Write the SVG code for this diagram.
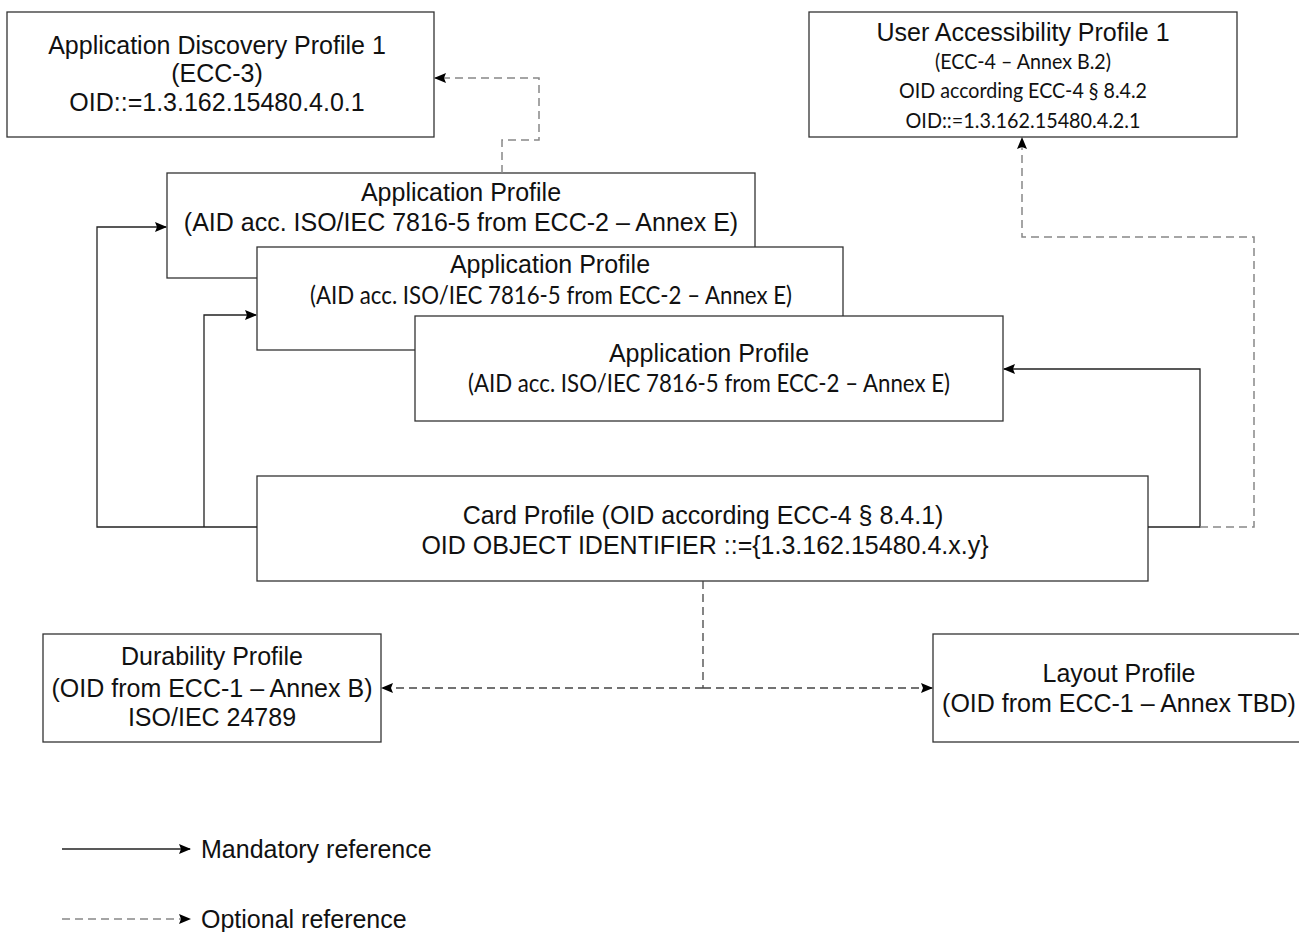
<svg xmlns="http://www.w3.org/2000/svg" width="1299" height="932" viewBox="0 0 1299 932">
<style>
.box{fill:#fff;stroke:#333;stroke-width:1.3}
.t{font-family:"Liberation Sans",Arial,sans-serif;font-size:25px;fill:#111;text-anchor:middle}
.c{font-family:Lato,"Open Sans",sans-serif;font-size:22px;fill:#111;text-anchor:middle}
.c25{font-family:Lato,"Open Sans",sans-serif;font-size:25px;fill:#111;text-anchor:middle}
.solid{fill:none;stroke:#222;stroke-width:1.3}
.dash{fill:none;stroke:#888;stroke-width:1.5;stroke-dasharray:8,5}
.dashd{fill:none;stroke:#444;stroke-width:1.3;stroke-dasharray:8,5}
</style>
<defs>
<marker id="ah" markerUnits="userSpaceOnUse" markerWidth="12" markerHeight="10" refX="11" refY="5" orient="auto">
<path d="M0,0 L12,5 L0,10 L2,5 z" fill="#000"/>
</marker>
</defs>
<rect width="1299" height="932" fill="#fff"/>
<g id="app-discovery">
<rect class="box" x="7" y="12" width="427" height="125"/>
<text class="t" x="217" y="54">Application Discovery Profile 1</text>
<text class="t" x="217" y="82">(ECC-3)</text>
<text class="t" x="217" y="111">OID::=1.3.162.15480.4.0.1</text>
</g>
<g id="user-accessibility">
<rect class="box" x="809" y="12" width="428" height="125"/>
<text class="t" x="1023" y="41">User Accessibility Profile 1</text>
<text class="c" x="1023" y="69" textLength="176" lengthAdjust="spacingAndGlyphs">(ECC-4 – Annex B.2)</text>
<text class="c" x="1023" y="98" textLength="248" lengthAdjust="spacingAndGlyphs">OID according ECC-4 § 8.4.2</text>
<text class="c" x="1023" y="128" textLength="235" lengthAdjust="spacingAndGlyphs">OID::=1.3.162.15480.4.2.1</text>
</g>
<g id="app-profile-1">
<rect class="box" x="167" y="173" width="588" height="105"/>
<text class="t" x="461" y="201">Application Profile</text>
<text class="t" x="461" y="231">(AID acc. ISO/IEC 7816-5 from ECC-2 – Annex E)</text>
</g>
<g id="app-profile-2">
<rect class="box" x="257" y="247" width="586" height="103"/>
<text class="t" x="550" y="273">Application Profile</text>
<text class="c25" x="551" y="304" textLength="482" lengthAdjust="spacingAndGlyphs">(AID acc. ISO/IEC 7816-5 from ECC-2 – Annex E)</text>
</g>
<g id="app-profile-3">
<rect class="box" x="415" y="316" width="588" height="105"/>
<text class="t" x="709" y="362">Application Profile</text>
<text class="c25" x="709" y="392" textLength="482" lengthAdjust="spacingAndGlyphs">(AID acc. ISO/IEC 7816-5 from ECC-2 – Annex E)</text>
</g>
<g id="card-profile">
<rect class="box" x="257" y="476" width="891" height="105"/>
<text class="t" x="703" y="524">Card Profile (OID according ECC-4 § 8.4.1)</text>
<text class="t" x="705" y="554">OID OBJECT IDENTIFIER ::={1.3.162.15480.4.x.y}</text>
</g>
<g id="durability-profile">
<rect class="box" x="43" y="634" width="338" height="108"/>
<text class="t" x="212" y="665">Durability Profile</text>
<text class="t" x="212" y="697">(OID from ECC-1 – Annex B)</text>
<text class="t" x="212" y="726">ISO/IEC 24789</text>
</g>
<g id="layout-profile">
<rect class="box" x="933" y="634" width="380" height="108"/>
<text class="t" x="1119" y="682">Layout Profile</text>
<text class="t" x="1119" y="712">(OID from ECC-1 – Annex TBD)</text>
</g>
<g id="connectors">
<path class="solid" d="M257,527 H97 V227 H166" marker-end="url(#ah)"/>
<path class="solid" d="M204,527 V315 H256" marker-end="url(#ah)"/>
<path class="solid" d="M1148,527 H1200 V369 H1004" marker-end="url(#ah)"/>
<path class="dash" d="M1200,527 H1254 V237 H1022 V138" marker-end="url(#ah)"/>
<path class="dash" d="M502,173 V140 H539 V78 H435" marker-end="url(#ah)"/>
<path class="dashd" d="M703,581 V688"/>
<path class="dashd" d="M703,688 H382" marker-end="url(#ah)"/>
<path class="dashd" d="M703,688 H932" marker-end="url(#ah)"/>
</g>
<g id="legend">
<path class="solid" d="M62,849 H190" marker-end="url(#ah)"/>
<text class="t" x="201" y="858" style="text-anchor:start">Mandatory reference</text>
<path class="dash" d="M62,919 H190" marker-end="url(#ah)"/>
<text class="t" x="201" y="928" style="text-anchor:start">Optional reference</text>
</g>
</svg>
